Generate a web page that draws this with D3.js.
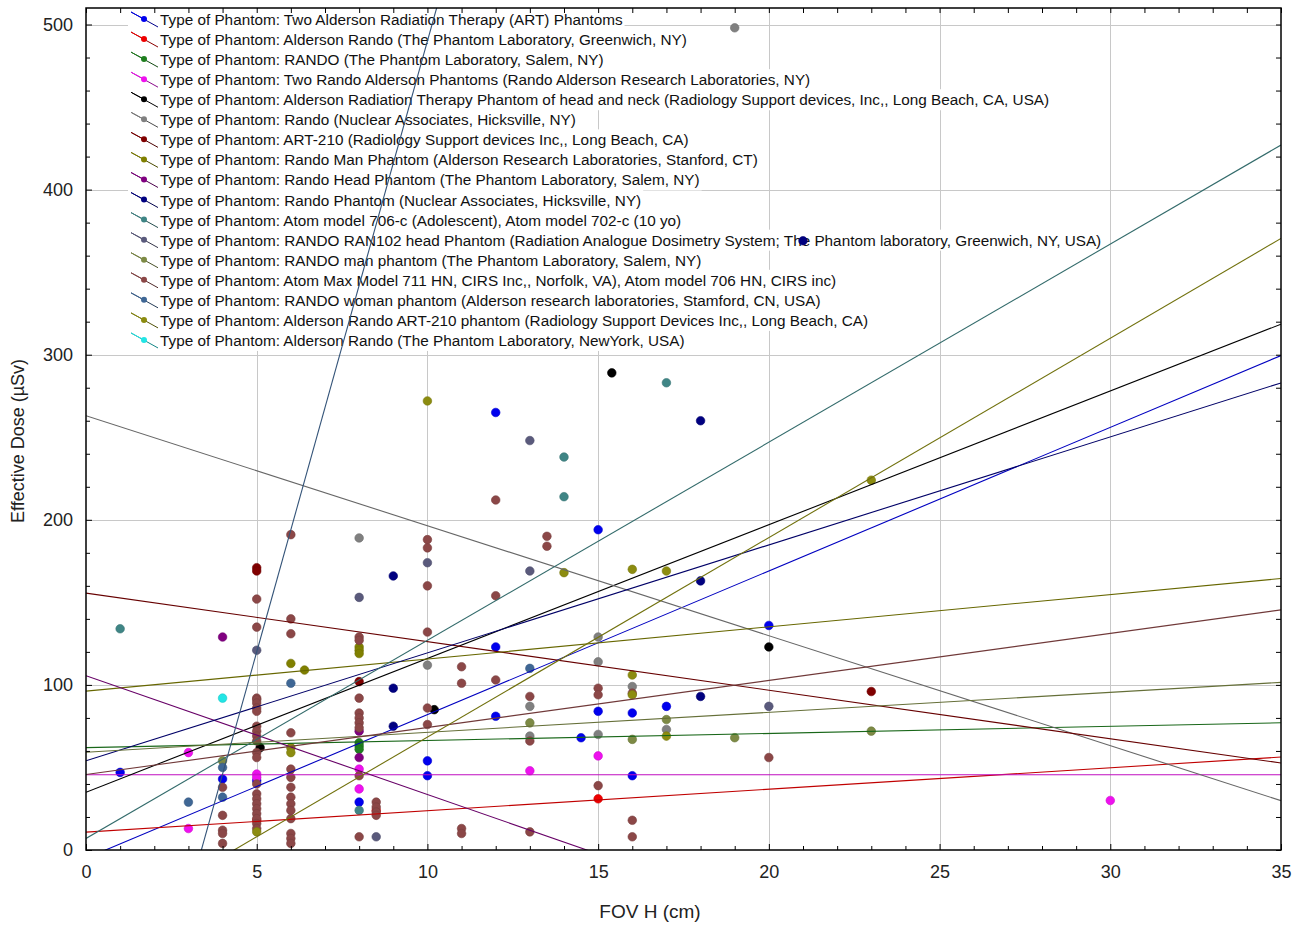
<!DOCTYPE html>
<html>
<head>
<meta charset="utf-8">
<script src="https://cdn.jsdelivr.net/npm/d3@7"></script>
<style>
    body { margin: 0; background: #fff; }
    svg { font-family: "Liberation Sans", Arial, sans-serif; }
</style>
</head>
<body>
<svg width="1302" height="929"></svg>
<script>
// legend labels, one per type of phantom
let phantomTypes = [
    "Type of Phantom: Two Alderson Radiation Therapy (ART) Phantoms",
    "Type of Phantom: Alderson Rando (The Phantom  Laboratory, Greenwich, NY)",
    "Type of Phantom: RANDO (The Phantom Laboratory, Salem, NY)",
    "Type of Phantom: Two Rando Alderson Phantoms (Rando Alderson Research Laboratories, NY)",
    "Type of Phantom: Alderson Radiation Therapy Phantom of head and neck (Radiology Support devices, Inc,, Long Beach, CA, USA)",
    "Type of Phantom: Rando (Nuclear Associates,  Hicksville, NY)",
    "Type of Phantom: ART-210 (Radiology Support devices Inc,, Long Beach, CA)",
    "Type of Phantom: Rando Man Phantom (Alderson Research Laboratories, Stanford, CT)",
    "Type of Phantom: Rando Head Phantom (The Phantom Laboratory, Salem, NY)",
    "Type of Phantom: Rando Phantom (Nuclear Associates, Hicksville, NY)",
    "Type of Phantom: Atom model 706-c (Adolescent), Atom model 702-c (10 yo)",
    "Type of Phantom: RANDO RAN102 head Phantom (Radiation Analogue Dosimetry System; The Phantom laboratory, Greenwich, NY, USA)",
    "Type of Phantom: RANDO man phantom (The Phantom Laboratory, Salem, NY)",
    "Type of Phantom: Atom Max Model 711 HN, CIRS Inc,, Norfolk, VA), Atom model 706 HN, CIRS inc)",
    "Type of Phantom: RANDO woman phantom (Alderson research laboratories, Stamford, CN, USA)",
    "Type of Phantom: Alderson Rando ART-210 phantom (Radiology Support Devices Inc,, Long Beach, CA)",
    "Type of Phantom: Alderson Rando (The Phantom Laboratory, NewYork, USA)"
];

let seriesColors = ["#0000ee", "#ee0000", "#1f7f1f", "#ee11ee", "#000000", "#808080",
    "#800000", "#808000", "#800080", "#000080", "#3f8585", "#5a5a7c",
    "#7d8a45", "#8b4747", "#3f6795", "#8c8c10", "#22e5e5"];

// [FOV H (cm), effective dose (uSv)] per phantom type
let twoAldersonART = [[1, 47], [4, 43], [5, 42], [8, 29], [10, 54], [10, 45], [12, 265], [12, 123],
    [12, 81], [14.5, 68], [15, 194], [15, 84], [16, 83], [16, 45], [17, 87], [20, 136]];
let aldersonRandoGreenwich = [[5, 18], [8.5, 24], [15, 31]];
let randoSalem = [[8, 65], [8, 63], [8, 61]];
let twoRandoAlderson = [[3, 59], [3, 13], [5, 46], [5, 44], [8, 49], [8, 37], [13, 48], [15, 57], [30, 30]];
let aldersonHeadNeck = [[5.1, 62], [10.2, 85], [15.4, 289], [20, 123]];
let randoNuclear = [[19, 498], [8, 189], [10, 112], [15, 129], [15, 114], [16, 99], [13, 87],
    [13, 69], [15, 70], [17, 73]];
let art210 = [[5, 171], [5, 169], [8, 102], [23, 96]];
let randoMan = [[6, 113], [6.4, 109], [8, 123], [8, 121], [8, 119]];
let randoHead = [[4, 129], [8, 72], [8, 56]];
let randoPhantomNuclear = [[9, 166], [9, 98], [9, 75], [18, 260], [18, 163], [18, 93], [21, 369]];
let atomModel706c = [[1, 134], [14, 238], [14, 214], [17, 283], [8, 24]];
let randoRan102 = [[13, 248], [13, 169], [8, 153], [10, 174], [20, 87], [8.5, 8], [5, 121]];
let randoManSalem = [[4, 54], [13, 77], [16, 67], [17, 79], [19, 68], [23, 72]];
let atomMax711 = [
    [4, 38], [4, 21], [4, 12], [4, 10], [4, 4],
    [5, 152], [5, 135], [5, 92], [5, 91], [5, 89], [5, 86], [5, 84], [5, 75], [5, 72], [5, 69],
    [5, 66], [5, 59], [5, 56], [5, 40], [5, 34], [5, 31], [5, 28], [5, 25], [5, 22], [5, 19], [5, 16], [5, 13],
    [6, 191], [6, 140], [6, 131], [6, 71], [6, 49], [6, 44], [6, 38], [6, 32], [6, 28], [6, 24],
    [6, 19], [6, 10], [6, 7], [6, 4],
    [8, 129], [8, 127], [8, 92], [8, 83], [8, 80], [8, 77], [8, 74], [8, 45], [8, 8],
    [8.5, 29], [8.5, 26], [8.5, 23], [8.5, 21],
    [10, 188], [10, 183], [10, 160], [10, 132], [10, 86], [10, 76],
    [11, 111], [11, 101], [11, 13], [11, 10],
    [12, 212], [12, 154], [12, 103],
    [13, 93], [13, 66], [13, 11],
    [13.5, 190], [13.5, 184],
    [15, 98], [15, 94], [15, 39],
    [16, 95], [16, 18], [16, 8],
    [20, 56]];
let randoWoman = [[3, 29], [4, 50], [4, 32], [6, 101], [13, 110]];
let aldersonRandoArt210 = [[5, 11], [6, 62], [6, 59], [10, 272], [14, 168], [16, 170], [16, 106],
    [16, 94], [17, 169], [17, 69], [23, 224]];
let aldersonRandoNewYork = [[4, 92]];

let seriesPoints = [twoAldersonART, aldersonRandoGreenwich, randoSalem, twoRandoAlderson,
    aldersonHeadNeck, randoNuclear, art210, randoMan, randoHead, randoPhantomNuclear,
    atomModel706c, randoRan102, randoManSalem, atomMax711, randoWoman, aldersonRandoArt210,
    aldersonRandoNewYork];

// linear fits: dose = intercept + slope * FOV
let fitIntercept = [-5, 10.8, 62, 45.6, 35, 263, 155.6, 96.2, 105.6, 54, 7, null, 59.2, 45.7, -250, -52.4, null];
let fitSlope = [8.7, 1.3, 0.43, 0, 8.1, -6.66, -2.94, 1.95, -7.2, 6.54, 12, null, 1.21, 2.85, 74, 12.08, null];

let xMajorTicks = [0, 5, 10, 15, 20, 25, 30, 35];
let yMajorTicks = [0, 100, 200, 300, 400, 500];

(function () {
    'use strict';

    let svg = d3.select("svg");
    let left = 86, right = 1281, top = 8, bottom = 850;

    let x = d3.scaleLinear().domain([0, 35]).range([left, right]);
    let y = d3.scaleLinear().domain([0, 510]).range([bottom, top]);

    svg.append("defs").append("clipPath").attr("id", "plot")
        .append("rect")
        .attr("x", left).attr("y", top)
        .attr("width", right - left).attr("height", bottom - top);

    // horizontal grid
    svg.append("g")
        .selectAll("line")
        .data(yMajorTicks.filter(d => d > 0))
        .enter().append("line")
        .attr("x1", left).attr("x2", right)
        .attr("y1", d => Math.round(y(d)) + 0.5).attr("y2", d => Math.round(y(d)) + 0.5)
        .attr("stroke", "#c8c8c8");

    // legend backgrounds hide the horizontal grid
    let rowY = i => 19 + i * 20.06;
    let legend = svg.append("g");
    let legendText = legend.selectAll("text")
        .data(phantomTypes)
        .enter().append("text")
        .attr("x", 160)
        .attr("y", (d, i) => rowY(i) + 6)
        .style("font-size", "15.3px")
        .attr("fill", "#111")
        .text(d => d);
    legendText.each(function (d, i) {
        let w = this.getComputedTextLength();
        legend.insert("rect", "text")
            .attr("x", 128).attr("y", rowY(i) - 10)
            .attr("width", w + 34).attr("height", 21)
            .attr("fill", "#fff");
    });

    // vertical grid
    svg.append("g")
        .selectAll("line")
        .data(xMajorTicks.filter(d => d > 0 && d < 35))
        .enter().append("line")
        .attr("x1", d => Math.round(x(d)) + 0.5).attr("x2", d => Math.round(x(d)) + 0.5)
        .attr("y1", top).attr("y2", bottom)
        .attr("stroke", "#c8c8c8");

    // legend symbols
    let sym = svg.append("g");
    phantomTypes.forEach(function (d, i) {
        let cy = rowY(i);
        let c = seriesColors[i];
        sym.append("line")
            .attr("x1", 131).attr("y1", cy - 7).attr("x2", 158).attr("y2", cy + 8)
            .attr("stroke", d3.color(c).darker(1.5)).attr("stroke-width", 1);
        sym.append("line")
            .attr("x1", 131).attr("y1", cy - 7).attr("x2", 144).attr("y2", cy)
            .attr("stroke", c).attr("stroke-width", 1);
        sym.append("circle")
            .attr("cx", 144).attr("cy", cy).attr("r", 3)
            .attr("fill", c);
    });
    legend.raise();
    sym.raise();

    // points
    let pts = svg.append("g").attr("clip-path", "url(#plot)");
    seriesPoints.forEach(function (series, i) {
        pts.append("g")
            .selectAll("circle")
            .data(series)
            .enter().append("circle")
            .attr("cx", d => x(d[0]))
            .attr("cy", d => y(d[1]))
            .attr("r", 4.3)
            .attr("fill", seriesColors[i])
            .attr("stroke", d3.color(seriesColors[i]).darker(0.4))
            .attr("stroke-width", 0.6);
    });

    // fit lines
    let fitLine = d3.line()
        .x(d => x(d[0]))
        .y(d => y(d[1]));
    let fits = svg.append("g").attr("clip-path", "url(#plot)");
    fitSlope.forEach(function (b, i) {
        if (b === null) return;
        let a = fitIntercept[i];
        fits.append("path")
            .attr("d", fitLine([[0, a], [35, a + 35 * b]]))
            .attr("fill", "none")
            .attr("stroke", d3.color(seriesColors[i]).darker(0.6))
            .attr("stroke-width", 1.1);
    });

    // axes, ticks inward
    let xMinor = d3.range(0, 36, 1).filter(d => d % 5 !== 0);
    let yMinor = d3.range(0, 511, 20).filter(d => d % 100 !== 0);

    let gx = svg.append("g")
        .attr("transform", "translate(0," + bottom + ")")
        .call(d3.axisBottom(x).tickValues(xMajorTicks).tickSize(-6).tickPadding(15));
    svg.append("g")
        .attr("transform", "translate(0," + bottom + ")")
        .call(d3.axisBottom(x).tickValues(xMinor).tickSize(-4).tickFormat(""));
    svg.append("g")
        .attr("transform", "translate(0," + top + ")")
        .call(d3.axisTop(x).tickValues(xMajorTicks.concat(xMinor)).tickSize(-5).tickFormat(""));

    let gy = svg.append("g")
        .attr("transform", "translate(" + left + ",0)")
        .call(d3.axisLeft(y).tickValues(yMajorTicks).tickSize(-6).tickPadding(13));
    svg.append("g")
        .attr("transform", "translate(" + left + ",0)")
        .call(d3.axisLeft(y).tickValues(yMinor).tickSize(-4).tickFormat(""));
    svg.append("g")
        .attr("transform", "translate(" + right + ",0)")
        .call(d3.axisRight(y).tickValues(yMajorTicks.concat(yMinor)).tickSize(-5).tickFormat(""));

    svg.selectAll(".domain").remove();
    svg.selectAll(".tick line").attr("stroke", "#000");
    [gx, gy].forEach(g => g.selectAll("text")
        .style("font-size", "18px")
        .style("font-family", "'Liberation Sans', Arial, sans-serif")
        .attr("fill", "#222"));

    svg.append("rect")
        .attr("x", left).attr("y", top)
        .attr("width", right - left).attr("height", bottom - top)
        .attr("fill", "none")
        .attr("stroke", "#000")
        .attr("stroke-width", 1.5);

    // axis titles
    svg.append("text")
        .attr("x", 650).attr("y", 918)
        .attr("text-anchor", "middle")
        .style("font-size", "19px")
        .attr("fill", "#222")
        .text("FOV H (cm)");

    svg.append("text")
        .attr("transform", "translate(24,441) rotate(-90)")
        .attr("text-anchor", "middle")
        .style("font-size", "18px")
        .attr("fill", "#222")
        .text("Effective Dose (µSv)");
}());
</script>
</body>
</html>
